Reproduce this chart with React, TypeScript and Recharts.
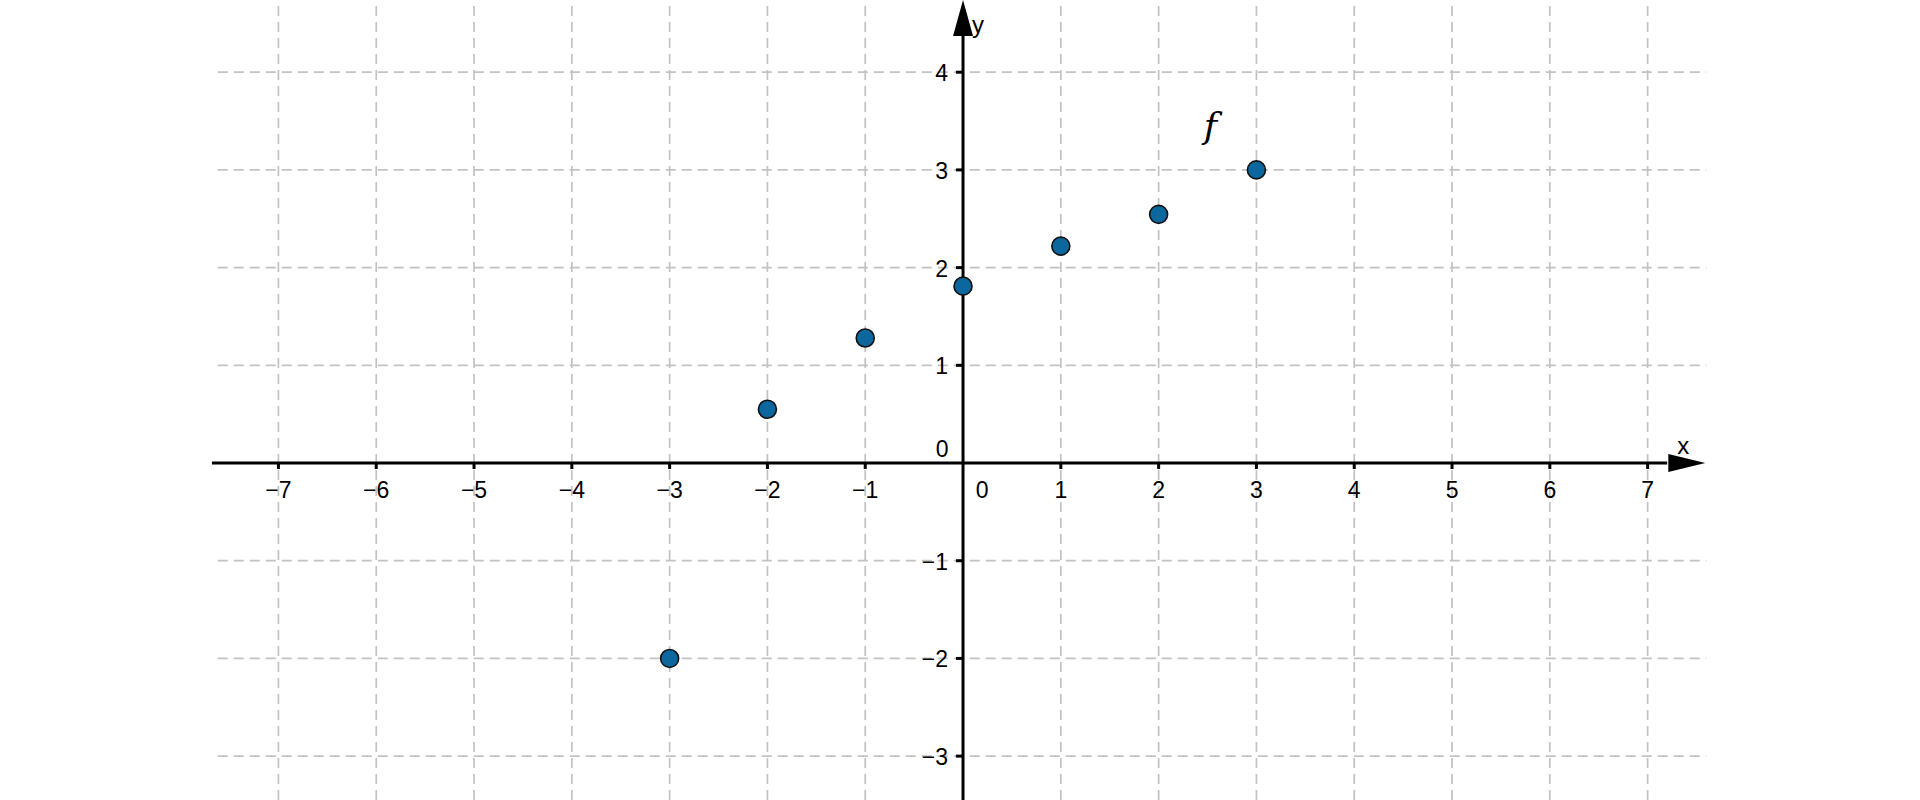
import React from 'react';
import { ScatterChart, Scatter, XAxis, YAxis, ReferenceLine, ReferenceDot } from 'recharts';

// points of f
const xValues = [-3, -2, -1, 0, 1, 2, 3];
const fValues = [-2, 0.55, 1.28, 1.81, 2.22, 2.545, 3];

// axis ticks / grid
const xTicks = [-7, -6, -5, -4, -3, -2, -1, 1, 2, 3, 4, 5, 6, 7];
const yTicks = [-3, -2, -1, 1, 2, 3, 4];

// view window (units)
const xDomain: [number, number] = [-9.847, 9.785];
const yDomain: [number, number] = [-3.449, 4.739];
const xAxisStart = -7.68;
const xAxisEnd = 7.59;
const gridLeft = -7.62;
const gridRight = 7.6;
const labelF = { x: 2.53, y: 3.45 };

const data = xValues.map((x, i) => ({ x, y: fValues[i] }));

const FONT = '"Liberation Sans", Arial, sans-serif';
const GRID = '#c2c2c2';
const FS = 23;

const fmt = (v: number) => (v < 0 ? '\u2212' + Math.abs(v) : String(v));

const Dot = (props: any) => (
  <circle cx={props.cx} cy={props.cy} r={9} fill="#0b679d" stroke="#111" strokeWidth={1.6} />
);

export default function App() {
  return (
    <div style={{ position: 'absolute', left: 0, top: 0, width: 1920, height: 800, background: '#fff' }}>
      <ScatterChart width={1920} height={800} margin={{ top: 0, right: 0, bottom: 0, left: 0 }}>
        <XAxis type="number" dataKey="x" domain={xDomain} allowDataOverflow hide />
        <YAxis type="number" dataKey="y" domain={yDomain} allowDataOverflow hide />

        {xTicks.map((t) => (
          <ReferenceLine key={'gx' + t} x={t} stroke={GRID} strokeWidth={1.7} strokeDasharray="10 6" />
        ))}
        {yTicks.map((t) => (
          <ReferenceLine
            key={'gy' + t}
            segment={[{ x: gridLeft, y: t }, { x: gridRight, y: t }]}
            stroke={GRID}
            strokeWidth={1.7}
            strokeDasharray="10 6"
          />
        ))}

        {/* axes */}
        <ReferenceLine segment={[{ x: xAxisStart, y: 0 }, { x: 7.2, y: 0 }]} stroke="#000" strokeWidth={3} />
        <ReferenceLine segment={[{ x: 0, y: yDomain[0] }, { x: 0, y: 4.38 }]} stroke="#000" strokeWidth={3} />
        <ReferenceDot
          x={xAxisEnd}
          y={0}
          ifOverflow="visible"
          shape={(p: any) => (
            <g>
              <polygon points={`${p.cx},${p.cy} ${p.cx - 37},${p.cy - 9} ${p.cx - 37},${p.cy + 9}`} fill="#000" />
              <text x={p.cx - 22} y={p.cy - 18} textAnchor="middle" dominantBaseline="central" fontFamily={FONT} fontSize={FS + 1} fill="#000">x</text>
            </g>
          )}
        />
        <ReferenceDot
          x={0}
          y={yDomain[1]}
          ifOverflow="visible"
          shape={(p: any) => (
            <g>
              <polygon points={`${p.cx},${p.cy} ${p.cx - 10},${p.cy + 36} ${p.cx + 10},${p.cy + 36}`} fill="#000" />
              <text x={p.cx + 15} y={p.cy + 24} textAnchor="middle" dominantBaseline="central" fontFamily={FONT} fontSize={FS + 1} fill="#000">y</text>
            </g>
          )}
        />

        {/* x ticks + labels */}
        {xTicks.map((t) => (
          <ReferenceDot
            key={'tx' + t}
            x={t}
            y={0}
            ifOverflow="visible"
            shape={(p: any) => (
              <g>
                <line x1={p.cx} y1={p.cy} x2={p.cx} y2={p.cy + 6} stroke="#000" strokeWidth={3} />
                <text x={p.cx} y={p.cy + 27} textAnchor="middle" dominantBaseline="central" fontFamily={FONT} fontSize={FS} fill="#000">{fmt(t)}</text>
              </g>
            )}
          />
        ))}
        {/* y ticks + labels */}
        {yTicks.map((t) => (
          <ReferenceDot
            key={'ty' + t}
            x={0}
            y={t}
            ifOverflow="visible"
            shape={(p: any) => (
              <g>
                <line x1={p.cx - 7} y1={p.cy} x2={p.cx} y2={p.cy} stroke="#000" strokeWidth={3} />
                <text x={p.cx - 15} y={p.cy + 1} textAnchor="end" dominantBaseline="central" fontFamily={FONT} fontSize={FS} fill="#000">{fmt(t)}</text>
              </g>
            )}
          />
        ))}
        {/* origin labels */}
        <ReferenceDot
          x={0}
          y={0}
          ifOverflow="visible"
          shape={(p: any) => (
            <g>
              <text x={p.cx - 21} y={p.cy - 14} textAnchor="middle" dominantBaseline="central" fontFamily={FONT} fontSize={FS} fill="#000">0</text>
              <text x={p.cx + 19} y={p.cy + 27} textAnchor="middle" dominantBaseline="central" fontFamily={FONT} fontSize={FS} fill="#000">0</text>
            </g>
          )}
        />

        <ReferenceDot
          x={labelF.x}
          y={labelF.y}
          ifOverflow="visible"
          shape={(p: any) => (
            <text x={p.cx} y={p.cy} textAnchor="middle" dominantBaseline="central" fontFamily='"DejaVu Serif", "Liberation Serif", serif' fontStyle="italic" fontSize={36} fill="#000">f</text>
          )}
        />

        <Scatter data={data} shape={Dot} isAnimationActive={false} />
      </ScatterChart>
    </div>
  );
}
